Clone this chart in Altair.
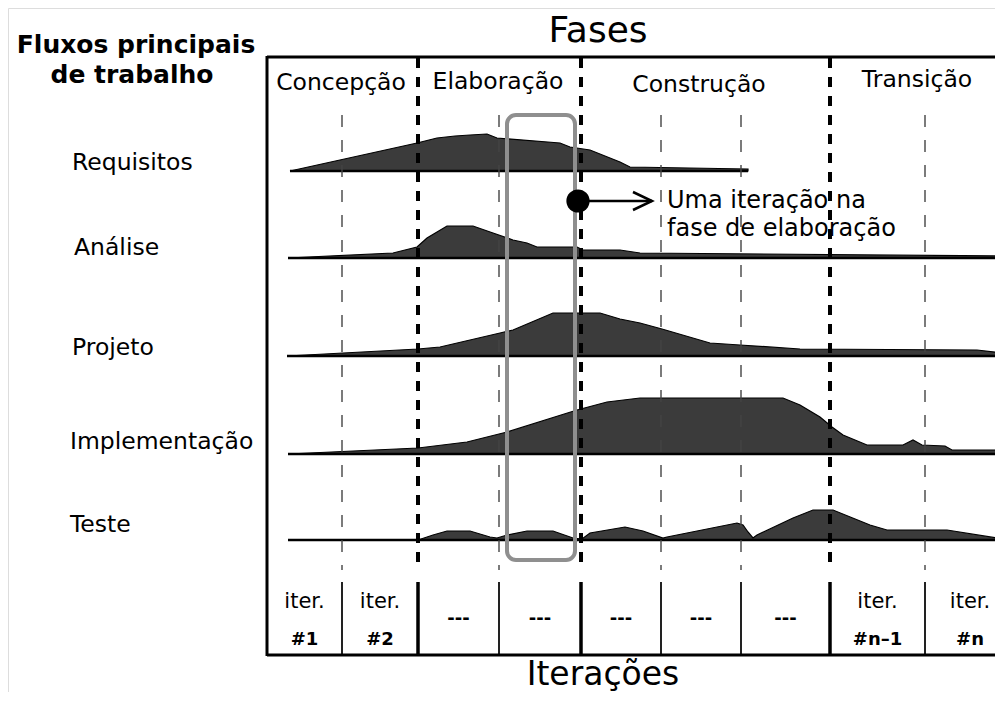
import altair as alt
import pandas as pd

# ---------------- layout of the drawing (timeline units / vertical units) ----------
W, H = 987, 684
X_DOMAIN = [-259, 728]      # timeline units, 0 = left edge of the frame
Y_DOMAIN = [8, 692]         # vertical units, top -> bottom

# ---------------- data ----------------
workflows = ["Requisitos", "Análise", "Projeto", "Implementação", "Teste"]
row_base = [171, 258, 356, 454, 540]
row_start = [23, 21, 20, 21, 21]
row_end = [481, 736, 736, 736, 736]

req_t = [23, 150, 170, 188, 203, 220, 230, 293, 303, 323, 353, 363, 481, 481]
req_h = [0, 28, 33, 35, 36, 37, 33, 28, 24, 21, 9, 4, 2, 0]

ana_t = [21, 126, 138, 150, 160, 180, 206, 226, 246, 260, 270, 310, 316, 353, 373, 736]
ana_h = [0, 5, 8, 11, 20, 32, 32, 25, 18, 15, 11, 11, 8, 8, 5, 2]

pro_t = [20, 151, 173, 233, 246, 286, 333, 353, 373, 395, 443, 473, 533, 710, 736]
pro_h = [0, 7, 9, 23, 26, 43, 43, 37, 33, 27, 13, 11, 7, 6, 3]

imp_t = [21, 151, 200, 240, 310, 340, 373, 516, 533, 553, 565, 576, 600, 636, 646, 655, 678, 685, 736]
imp_h = [0, 6, 12, 22, 44, 52, 56, 56, 49, 37, 27, 19, 9, 9, 14, 9, 8, 4, 4]

tes_t = [21, 151, 166, 180, 203, 223, 230, 240, 260, 286, 306, 315, 323, 358, 376, 396,
         400, 470, 476, 481, 486, 490, 526, 546, 566, 603, 620, 680, 736]
tes_h = [0, 0, 5, 9, 9, 3, 2, 5, 9, 9, 2, 1, 7, 13, 9, 2,
         3, 17, 15, 8, 2, 5, 22, 30, 30, 15, 10, 10, 1]

series_t = [req_t, ana_t, pro_t, imp_t, tes_t]
series_h = [req_h, ana_h, pro_h, imp_h, tes_h]

phase_names = ["Concepção", "Elaboração", "Construção", "Transição"]
phase_label_t = [74, 231, 432, 650]
phase_label_v = [90, 89, 92, 87]
phase_bounds = [151, 314, 563]

iter_bounds = [0, 75, 151, 232, 314, 394, 474, 563, 658, 748]
minor_bounds = [75, 232, 394, 474, 658]
iter_top = ["iter.", "iter.", "", "", "", "", "", "iter.", "iter."]
iter_num = ["#1", "#2", "---", "---", "---", "---", "---", "#n–1", "#n"]

# ---------------- tables ----------------
rows = []
for name, base, ts, hs in zip(workflows, row_base, series_t, series_h):
    for t, h in zip(ts, hs):
        rows.append({"wf": name, "t": t, "top": base - h, "base": base})
area_df = pd.DataFrame(rows)

base_df = pd.DataFrame({"wf": workflows, "t": row_start, "t2": row_end, "v": row_base})
wf_label_df = pd.DataFrame({"label": workflows,
                            "t": [-195, -193, -195, -197, -197],
                            "v": [170, 255, 355, 449, 532]})

phase_df = pd.DataFrame({"label": phase_names, "t": phase_label_t, "v": phase_label_v})

mids = [(a + b) / 2 for a, b in zip(iter_bounds[:-1], iter_bounds[1:])]
iter_top_df = pd.DataFrame({"label": iter_top, "t": mids, "v": [608] * 9})
iter_num_df = pd.DataFrame({"label": iter_num, "t": mids,
                            "v": [645 if s != "---" else 624 for s in iter_num]})

thick_dash_df = pd.DataFrame({"t": phase_bounds, "v1": [58] * 3, "v2": [570] * 3})
thin_dash_df = pd.DataFrame({"t": minor_bounds, "v1": [115] * 5, "v2": [570] * 5})
thick_solid_df = pd.DataFrame({"t": phase_bounds, "v1": [582] * 3, "v2": [655] * 3})
thin_solid_df = pd.DataFrame({"t": minor_bounds, "v1": [582] * 5, "v2": [655] * 5})

frame_h_df = pd.DataFrame({"t": [0, 0], "t2": [760, 760], "v": [57, 655]})
frame_v_df = pd.DataFrame({"t": [0], "v1": [56], "v2": [656]})

highlight_df = pd.DataFrame({"t": [240], "t2": [308], "v": [115], "v2": [560]})
dot_df = pd.DataFrame({"t": [311], "v": [201]})
shaft_df = pd.DataFrame({"t": [311], "t2": [385], "v": [201]})
head_df = pd.DataFrame({"t": [366, 385, 366], "v": [192, 201, 210], "o": [0, 1, 2]})
note_df = pd.DataFrame({"label": ["Uma iteração na", "fase de elaboração"],
                        "t": [400, 400], "v": [208, 236]})

title_df = pd.DataFrame({"label": ["Fases"], "t": [331], "v": [42]})
xlabel_df = pd.DataFrame({"label": ["Iterações"], "t": [336], "v": [685]})
flux_df = pd.DataFrame({"label": ["Fluxos principais", "de trabalho"],
                        "t": [-131, -135], "v": [53, 83]})

# ---------------- encodings ----------------
xs = alt.Scale(domain=X_DOMAIN, nice=False, zero=False)
ys = alt.Scale(domain=Y_DOMAIN, reverse=True, nice=False, zero=False)
X = lambda f="t": alt.X(f"{f}:Q", scale=xs, axis=None)
Y = lambda f="v": alt.Y(f"{f}:Q", scale=ys, axis=None)
FONT = "DejaVu Sans"


def text_layer(df, size, align="center", weight="normal"):
    return alt.Chart(df).mark_text(
        align=align, baseline="alphabetic", font=FONT, fontSize=size,
        fontWeight=weight, color="black"
    ).encode(x=X(), y=Y(), text="label:N")


areas = alt.Chart(area_df).mark_area(
    color="#3b3b3b", stroke="black", strokeWidth=1.2, interpolate="linear"
).encode(x=X(), y=Y("top"), y2=alt.Y2("base:Q"), detail="wf:N")

baselines = alt.Chart(base_df).mark_rule(color="black", strokeWidth=2.6).encode(
    x=X(), x2=alt.X2("t2:Q"), y=Y())

thick_dash = alt.Chart(thick_dash_df).mark_rule(
    color="black", strokeWidth=4, strokeDash=[10, 9]).encode(
    x=X(), y=Y("v1"), y2=alt.Y2("v2:Q"))
thin_dash = alt.Chart(thin_dash_df).mark_rule(
    color="#444444", strokeWidth=1.4, strokeDash=[12, 13]).encode(
    x=X(), y=Y("v1"), y2=alt.Y2("v2:Q"))
thick_solid = alt.Chart(thick_solid_df).mark_rule(color="black", strokeWidth=3.5).encode(
    x=X(), y=Y("v1"), y2=alt.Y2("v2:Q"))
thin_solid = alt.Chart(thin_solid_df).mark_rule(color="#222222", strokeWidth=2).encode(
    x=X(), y=Y("v1"), y2=alt.Y2("v2:Q"))

frame_h = alt.Chart(frame_h_df).mark_rule(color="black", strokeWidth=3).encode(
    x=X(), x2=alt.X2("t2:Q"), y=Y())
frame_v = alt.Chart(frame_v_df).mark_rule(color="black", strokeWidth=3).encode(
    x=X(), y=Y("v1"), y2=alt.Y2("v2:Q"))

highlight = alt.Chart(highlight_df).mark_rect(
    cornerRadius=9, fillOpacity=0, stroke="#8f8f8f", strokeWidth=4).encode(
    x=X(), x2=alt.X2("t2:Q"), y=Y(), y2=alt.Y2("v2:Q"))

shaft = alt.Chart(shaft_df).mark_rule(color="black", strokeWidth=2.5).encode(
    x=X(), x2=alt.X2("t2:Q"), y=Y())
head = alt.Chart(head_df).mark_line(color="black", strokeWidth=2.5).encode(
    x=X(), y=Y(), order="o:Q")
dot = alt.Chart(dot_df).mark_circle(size=540, color="black", opacity=1).encode(
    x=X(), y=Y())

chart = alt.layer(
    areas, baselines, thin_dash, thick_dash, thin_solid, thick_solid,
    frame_h, frame_v, highlight, shaft, head, dot,
    text_layer(note_df, 24, align="left"),
    text_layer(phase_df, 23.5),
    text_layer(wf_label_df, 23.5, align="left"),
    text_layer(iter_top_df, 21),
    text_layer(iter_num_df, 18, weight="bold"),
    text_layer(title_df, 36),
    text_layer(xlabel_df, 33),
    text_layer(flux_df, 25, weight="bold"),
).properties(
    width=W, height=H, padding=0, autosize="none"
).configure_view(stroke=None).configure(background="white")

chart.save("out.html", embed_options={"renderer": "svg", "actions": False})
